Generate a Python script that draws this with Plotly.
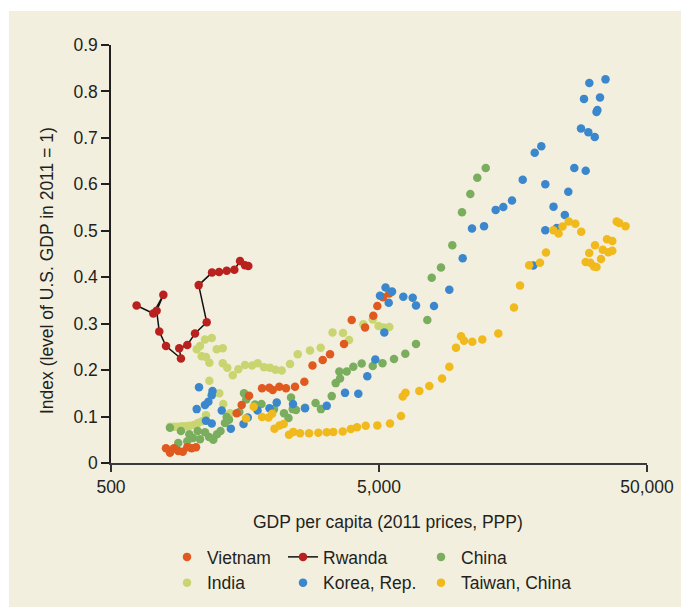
import plotly.graph_objects as go
import math

# ---------------- data ----------------
vietnam_gdp = [802, 830, 859, 891, 926, 963, 1000, 1038, 1472, 1537, 1637, 1830, 1949, 2006,
               2123, 2249, 2430, 2633, 2824, 3083, 3283, 3702, 3955, 4436, 4762, 4929, 5176, 5463]
vietnam_idx = [0.032, 0.022, 0.032, 0.026, 0.024, 0.034, 0.032, 0.034, 0.107, 0.125, 0.145, 0.161,
               0.162, 0.157, 0.164, 0.161, 0.164, 0.175, 0.210, 0.222, 0.234, 0.256, 0.308, 0.292,
               0.317, 0.338, 0.357, 0.365]

rwanda_gdp = [623, 719, 784, 740, 757, 802, 912, 899, 963, 1029, 1138, 1062, 1191, 1265, 1351,
              1443, 1515, 1581, 1627]
rwanda_idx = [0.339, 0.322, 0.362, 0.328, 0.283, 0.252, 0.225, 0.247, 0.254, 0.279, 0.303, 0.383,
              0.410, 0.411, 0.414, 0.416, 0.435, 0.426, 0.424]

china_gdp = [830, 891, 912, 963, 980, 1012, 1053, 1074, 1121, 1161, 1204, 1243, 1281, 1331, 1351,
             1378, 1506, 1568, 1599, 1723, 1822, 2029, 2211, 2298, 2348, 2382, 2451, 2648, 2899,
             3037, 3331, 3447, 3578, 3556, 3789, 4010, 4309, 4738, 5154, 5689, 6268, 6873, 7573,
             7865, 8517, 9387, 10202, 10957, 11635, 12509]
china_idx = [0.076, 0.043, 0.069, 0.047, 0.062, 0.054, 0.069, 0.051, 0.066, 0.056, 0.050, 0.062,
             0.069, 0.086, 0.099, 0.093, 0.110, 0.150, 0.137, 0.126, 0.127, 0.116, 0.107, 0.097,
             0.141, 0.116, 0.114, 0.119, 0.129, 0.116, 0.144, 0.172, 0.182, 0.197, 0.197, 0.207,
             0.214, 0.209, 0.215, 0.224, 0.235, 0.256, 0.308, 0.399, 0.421, 0.469, 0.540, 0.579,
             0.614, 0.635]

india_gdp = [1044, 1074, 1121, 1188, 1090, 1131, 1164, 1240, 1306, 1306, 1358, 1423, 1493, 1581,
             1680, 1764, 1862, 1960, 2055, 2167, 2328, 2487, 2764, 3030, 3354, 3670, 3865, 4370,
             4738, 4979, 5198, 5463, 1164, 1268, 1312, 1131, 1390, 830, 859, 889, 920, 952, 986,
             1020, 1056, 1093]
india_idx = [0.245, 0.252, 0.266, 0.269, 0.230, 0.228, 0.216, 0.245, 0.247, 0.215, 0.205, 0.189,
             0.202, 0.211, 0.210, 0.215, 0.206, 0.205, 0.201, 0.199, 0.213, 0.234, 0.242, 0.248,
             0.281, 0.280, 0.265, 0.299, 0.309, 0.295, 0.292, 0.293, 0.177, 0.150, 0.127, 0.103,
             0.107, 0.078, 0.078, 0.078, 0.079, 0.079, 0.080, 0.082, 0.086, 0.090]

korea_gdp = [1044, 1065, 1121, 1154, 1188, 1196, 1131, 1188, 1295, 1400, 1561, 1619, 1761, 1952,
             2077, 2388, 2648, 3191, 3734, 4186, 4522, 4845, 5234, 5043, 5289, 5591, 5435, 6162,
             6679, 6873, 8022, 9149, 10264, 11117, 12329, 13628, 14548, 15676, 17189, 19055,
             20166, 20870, 22397, 24682, 25430, 26774, 29532, 20870, 23025, 18824, 28358, 30200,
             31910, 32406, 32650, 29100, 33390, 30459, 35005]
korea_idx = [0.116, 0.163, 0.125, 0.132, 0.146, 0.155, 0.091, 0.085, 0.113, 0.074, 0.084, 0.098,
             0.113, 0.118, 0.130, 0.127, 0.118, 0.123, 0.151, 0.149, 0.187, 0.223, 0.281, 0.360,
             0.378, 0.369, 0.345, 0.358, 0.356, 0.339, 0.338, 0.373, 0.441, 0.505, 0.510, 0.545,
             0.551, 0.565, 0.610, 0.668, 0.682, 0.600, 0.552, 0.534, 0.584, 0.635, 0.629, 0.501,
             0.506, 0.425, 0.720, 0.712, 0.702, 0.756, 0.760, 0.784, 0.787, 0.818, 0.826]

taiwan_gdp = [1595, 1704, 1830, 1935, 1997, 2037, 2127, 2205, 2308, 2394, 2537, 2741, 2969, 3191,
              3377, 3661, 3925, 4140, 4462, 4929, 5495, 6041, 6129, 6279, 7070, 7702, 8595, 9149,
              9689, 10116, 10380, 11145, 12145, 13936, 15945, 16797, 18173, 19935, 20990, 22361,
              23383, 24199, 25518, 27009, 28410, 30431, 29532, 30720, 31712, 32406, 31989, 33683,
              34176, 35457, 37111, 35859, 37111, 38548, 39383, 41573]
taiwan_idx = [0.096, 0.121, 0.099, 0.098, 0.106, 0.074, 0.081, 0.084, 0.061, 0.067, 0.064, 0.064,
              0.065, 0.066, 0.067, 0.068, 0.073, 0.077, 0.080, 0.081, 0.085, 0.101, 0.143, 0.151,
              0.155, 0.166, 0.182, 0.207, 0.248, 0.273, 0.263, 0.261, 0.266, 0.279, 0.335, 0.382,
              0.426, 0.431, 0.453, 0.501, 0.494, 0.509, 0.520, 0.515, 0.498, 0.452, 0.433, 0.431,
              0.423, 0.422, 0.469, 0.439, 0.459, 0.482, 0.478, 0.454, 0.457, 0.520, 0.517, 0.510]

x_tickvals = [500, 5000, 50000]
x_ticktext = ["500", "5,000", "50,000"]
y_tickvals = [0, 0.1, 0.2, 0.3, 0.4, 0.5, 0.6, 0.7, 0.8, 0.9]
y_ticktext = ["0", "0.1", "0.2", "0.3", "0.4", "0.5", "0.6", "0.7", "0.8", "0.9"]

x_title = "GDP per capita (2011 prices, PPP)"
y_title = "Index (level of U.S. GDP in 2011 = 1)"

# ---------------- style ----------------
FONT = "Liberation Sans, Arial, sans-serif"
FS = 17.5
TXT = "#231f20"
CREAM = "#f3efdf"
MS = 8.5

C_VIET = "#e05a1f"
C_RWA = "#b8211e"
C_CHINA = "#7aae5e"
C_INDIA = "#c8d571"
C_KOREA = "#3a87cd"
C_TAIWAN = "#f0b91c"

fig = go.Figure()

def pts(name, x, y, color, legend, rank):
    return go.Scatter(x=x, y=y, mode="markers", name=name,
                      marker=dict(color=color, size=MS, line=dict(width=0)),
                      legend=legend, legendrank=rank, legendgroup=name)

fig.add_trace(pts("India", india_gdp, india_idx, C_INDIA, "legend", 2))
fig.add_trace(pts("China", china_gdp, china_idx, C_CHINA, "legend3", 1))
fig.add_trace(pts("Vietnam", vietnam_gdp, vietnam_idx, C_VIET, "legend", 1))
fig.add_trace(pts("Korea, Rep.", korea_gdp, korea_idx, C_KOREA, "legend2", 2))
fig.add_trace(pts("Taiwan, China", taiwan_gdp, taiwan_idx, C_TAIWAN, "legend3", 2))
fig.add_trace(go.Scatter(x=rwanda_gdp, y=rwanda_idx, mode="lines+markers", name="Rwanda",
                         line=dict(color="#111111", width=1.5),
                         marker=dict(color=C_RWA, size=MS, line=dict(width=0)),
                         legend="legend2", legendrank=1, legendgroup="Rwanda"))

# page body has an 8px margin: the figure is placed at (8, 8) in the window
OFF = 8
W, H = 689 - OFF, 607 - OFF
# plot area in window pixels
L, R, T, B = 111, 647, 45, 463
pw, ph = R - L, B - T

def px_x(p):
    return (p - L) / pw

def px_y(p):
    return (B - p) / ph

legend_common = dict(orientation="v", font=dict(family=FONT, size=FS, color=TXT),
                     bgcolor="rgba(0,0,0,0)", borderwidth=0, itemwidth=30,
                     tracegroupgap=0, xanchor="left", yanchor="top",
                     itemclick=False, itemdoubleclick=False)

fig.update_layout(
    width=W, height=H,
    margin=dict(l=L - OFF, r=(W + OFF) - R, t=T - OFF, b=(H + OFF) - B, pad=0,
                autoexpand=False),
    paper_bgcolor="white",
    plot_bgcolor="rgba(0,0,0,0)",
    font=dict(family=FONT, size=FS, color=TXT),
    showlegend=True,
    legend=dict(x=px_x(167), y=px_y(539), **legend_common),
    legend2=dict(x=px_x(283), y=px_y(539), **legend_common),
    legend3=dict(x=px_x(421), y=px_y(539), **legend_common),
    xaxis=dict(type="log", range=[math.log10(500), math.log10(50000)],
               tickvals=x_tickvals, ticktext=x_ticktext,
               ticks="outside", ticklen=7, tickwidth=1.5, tickcolor="#333333",
               showline=True, linecolor="#3a3a3a", linewidth=2,
               showgrid=False, zeroline=False,
               tickfont=dict(family=FONT, size=FS, color=TXT)),
    yaxis=dict(range=[0, 0.9], tickvals=y_tickvals, ticktext=y_ticktext,
               ticks="outside", ticklen=8, tickwidth=1.5, tickcolor="#231f20",
               showline=True, linecolor="#231f20", linewidth=1.5,
               showgrid=False, zeroline=False,
               tickfont=dict(family=FONT, size=FS, color=TXT)),
    shapes=[dict(type="rect", xref="paper", yref="paper", layer="below",
                 x0=px_x(9), x1=px_x(700), y0=px_y(620), y1=px_y(11),
                 fillcolor=CREAM, line=dict(width=0))],
    annotations=[
        dict(text=x_title, xref="paper", yref="paper", x=px_x(388), y=px_y(522),
             xanchor="center", yanchor="middle", showarrow=False,
             font=dict(family=FONT, size=FS, color=TXT)),
        dict(text=y_title, xref="paper", yref="paper", x=px_x(47), y=px_y(271),
             xanchor="center", yanchor="middle", showarrow=False, textangle=-90,
             font=dict(family=FONT, size=FS, color=TXT)),
    ],
)

fig.write_html("out.html")
